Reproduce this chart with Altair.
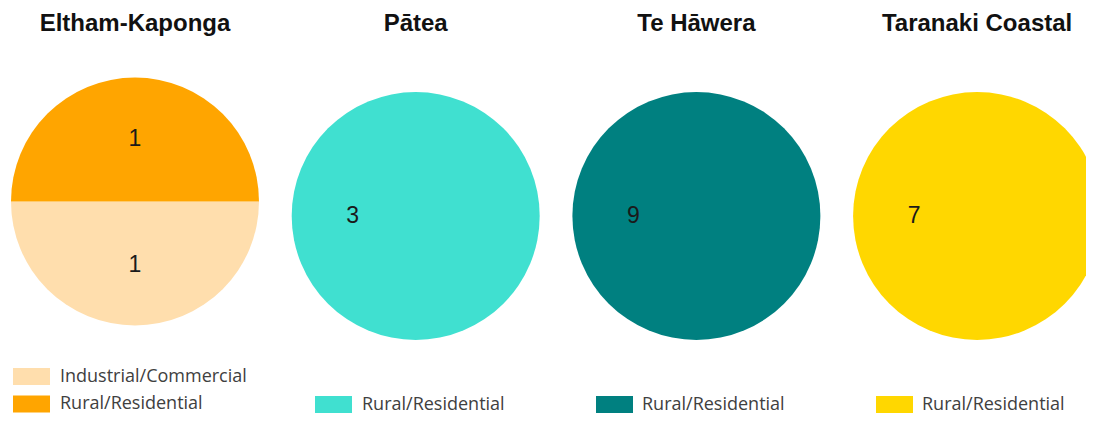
import math
import altair as alt
import pandas as pd

# ---- data ----
panels = ["Eltham-Kaponga", "Pātea", "Te Hāwera", "Taranaki Coastal"]
slice_panel = ["Eltham-Kaponga", "Eltham-Kaponga", "Pātea", "Te Hāwera", "Taranaki Coastal"]
slice_category = ["Industrial/Commercial", "Rural/Residential", "Rural/Residential",
                  "Rural/Residential", "Rural/Residential"]
slice_value = [1, 1, 3, 9, 7]

# ---- style ----
slice_colors = ["navajowhite", "orange", "turquoise", "teal", "gold"]
W, H = 1078, 405
pie_cy = [193.5, 208, 208, 208]
R_OUT = 124
R_LABEL = 63
swatch_x = [5, 307, 588, 868]
legend_text_x = [52, 354, 634, 914]
legend_rows = [[368.5, 396], [396.5], [396.5], [396.5]]
SW_W, SW_H = 37, 17

df = pd.DataFrame({
    "panel": slice_panel,
    "category": slice_category,
    "value": slice_value,
    "color": slice_colors,
})
df["idx"] = df["panel"].map({p: i for i, p in enumerate(panels)})
tot = df.groupby("panel")["value"].transform("sum")
cum = df.groupby("panel")["value"].cumsum()
df["t1"] = cum / tot
df["t0"] = (cum - df["value"]) / tot
df["tm"] = (df["t0"] + df["t1"]) / 2

xscale = alt.Scale(domain=[-0.4524, 3.3880], range=[0, W], nice=False, zero=False)
tscale = alt.Scale(domain=[0, 1], range=[math.pi / 2, 5 * math.pi / 2], nice=False, zero=False)

layers = []
for i, p in enumerate(panels):
    sub = df[df["panel"] == p]
    base = alt.Chart(sub)
    layers.append(
        base.mark_arc(outerRadius=R_OUT).encode(
            x=alt.X("idx:Q", scale=xscale, axis=None),
            y=alt.value(pie_cy[i]),
            theta=alt.Theta("t0:Q", scale=tscale),
            theta2="t1:Q",
            color=alt.Color("color:N", scale=None),
        )
    )
    layers.append(
        base.mark_text(radius=R_LABEL, fontSize=23, font="Liberation Sans",
                       color="#1a1a1a", baseline="middle", align="center").encode(
            x=alt.X("idx:Q", scale=xscale, axis=None),
            y=alt.value(pie_cy[i]),
            theta=alt.Theta("tm:Q", scale=tscale),
            text="value:Q",
        )
    )
    for j, (_, row) in enumerate(sub.iterrows()):
        yc = legend_rows[i][j]
        entry = alt.Chart(pd.DataFrame([row.to_dict()]))
        layers.append(
            entry.mark_rect().encode(
                x=alt.value(swatch_x[i]), x2=alt.value(swatch_x[i] + SW_W),
                y=alt.value(yc - SW_H / 2), y2=alt.value(yc + SW_H / 2),
                color=alt.Color("color:N", scale=None),
            )
        )
        layers.append(
            entry.mark_text(font="Open Sans", fontSize=18, color="#404040",
                            align="left", baseline="middle").encode(
                x=alt.value(legend_text_x[i]), y=alt.value(yc),
                text="category:N",
            )
        )

titles = pd.DataFrame({"panel": panels, "idx": list(range(len(panels)))})
layers.append(
    alt.Chart(titles).mark_text(font="Liberation Sans", fontSize=24, fontWeight="bold",
                                color="#111111", align="center",
                                baseline="alphabetic").encode(
        x=alt.X("idx:Q", scale=xscale, axis=None),
        y=alt.value(23),
        text="panel:N",
    )
)

chart = alt.layer(*layers).properties(
    width=W, height=H,
    autosize=alt.AutoSizeParams(type="none"),
    padding=0,
    background="white",
).configure_view(stroke=None)

chart.save("out.html", embed_options={"renderer": "svg", "actions": False})
